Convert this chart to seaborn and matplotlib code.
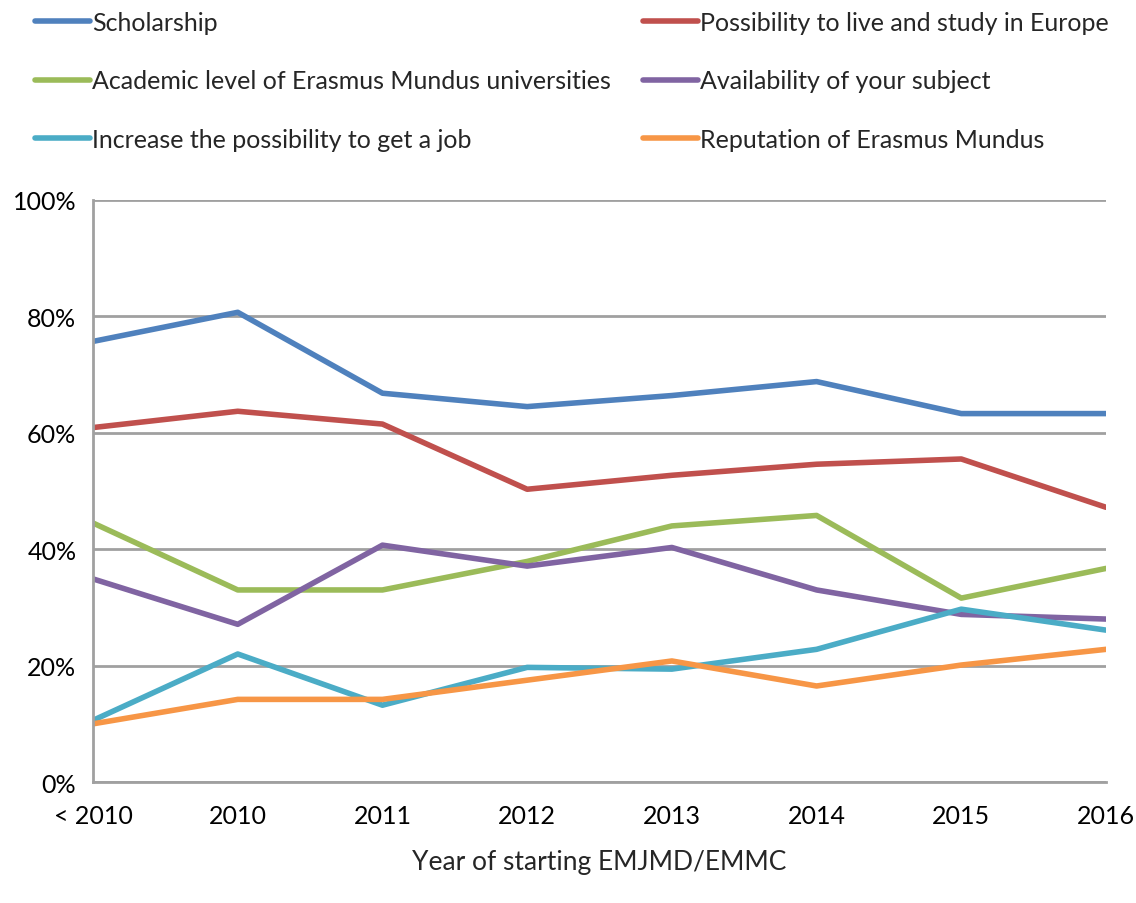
import pandas as pd
import matplotlib
matplotlib.use("Agg")
import matplotlib.pyplot as plt
import seaborn as sns

years = ["< 2010", "2010", "2011", "2012", "2013", "2014", "2015", "2016"]

scholarship = [75.7, 80.7, 66.8, 64.5, 66.4, 68.8, 63.3, 63.3]
live_study_europe = [60.9, 63.7, 61.5, 50.3, 52.7, 54.6, 55.5, 47.2]
academic_level = [44.5, 33.0, 33.0, 37.9, 44.0, 45.8, 31.6, 36.7]
subject_available = [34.9, 27.1, 40.7, 37.1, 40.3, 33.0, 28.8, 28.0]
job_possibility = [10.6, 22.0, 13.2, 19.7, 19.4, 22.8, 29.7, 26.1]
reputation = [10.0, 14.2, 14.2, 17.5, 20.8, 16.5, 20.1, 22.8]

series = {
    "Scholarship": scholarship,
    "Possibility to live and study in Europe": live_study_europe,
    "Academic level of Erasmus Mundus universities": academic_level,
    "Availability of your subject": subject_available,
    "Increase the possibility to get a job": job_possibility,
    "Reputation of Erasmus Mundus": reputation,
}
colors = ["#4F81BD", "#C0504D", "#9BBB59", "#8064A2", "#4BACC6", "#F79646"]

rows = []
for name, vals in series.items():
    for yr, v in zip(years, vals):
        rows.append({"year": yr, "share": v, "reason": name})
df = pd.DataFrame(rows)

sns.set_style("white")
plt.rcParams["font.family"] = ["Lato", "DejaVu Sans"]

fig = plt.figure(figsize=(11.36, 9.04), dpi=100)
ax = fig.add_axes([0.0819, 0.1338, 0.8917, 0.6439])

sns.lineplot(data=df, x="year", y="share", hue="reason", palette=colors,
             linewidth=4, ax=ax, sort=False, legend=False)

grid_c = "#A0A0A0"
ax.set_xlim(0, len(years) - 1)
ax.set_ylim(0, 100)
ax.set_yticks(range(0, 101, 20))
ax.set_yticklabels([f"{v}%" for v in range(0, 101, 20)])
ax.yaxis.grid(True, color=grid_c, linewidth=2)
ax.set_axisbelow(True)
for s in ["top", "right"]:
    ax.spines[s].set_visible(False)
for s in ["left", "bottom"]:
    ax.spines[s].set_color(grid_c)
    ax.spines[s].set_linewidth(2)
ax.tick_params(axis="both", direction="out", length=7, width=2, color=grid_c,
               labelsize=18, labelcolor="black")
ax.tick_params(axis="y", pad=5)
ax.tick_params(axis="x", pad=9)
ax.set_xlabel("Year of starting EMJMD/EMMC", fontsize=19, labelpad=16)
ax.set_ylabel("")

handles = ax.get_lines()[:6]
names = list(series.keys())
for col, x0 in enumerate([0.0264, 0.5616]):
    idx = [col, col + 2, col + 4]
    leg = fig.legend([handles[i] for i in idx], [names[i] for i in idx],
                     loc="upper left", bbox_to_anchor=(x0, 0.9925),
                     frameon=False, fontsize=18, handlelength=2.2,
                     handletextpad=0.1, labelspacing=1.42,
                     borderpad=0.2, borderaxespad=0)

fig.savefig("out.png", dpi=100)
